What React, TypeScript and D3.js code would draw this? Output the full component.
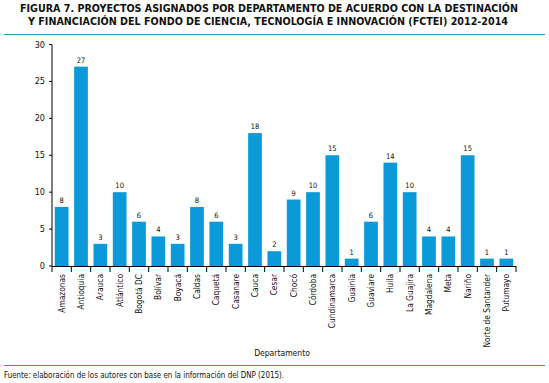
import React from "react";
import * as d3 from "d3";

const categories = ["Amazonas","Antioquia","Arauca","Atlántico","Bogotá DC","Bolívar","Boyacá","Caldas","Caquetá","Casanare","Cauca","Cesar","Chocó","Córdoba","Cundinamarca","Guainía","Guaviare","Huila","La Guajira","Magdalena","Meta","Nariño","Norte de Santander","Putumayo"];
const values = [8,27,3,10,6,4,3,8,6,3,18,2,9,10,15,1,6,14,10,4,4,15,1,1];
const yTicks = [0,5,10,15,20,25,30];
const titleLines = ["FIGURA 7. PROYECTOS ASIGNADOS POR DEPARTAMENTO DE ACUERDO CON LA DESTINACIÓN","Y FINANCIACIÓN DEL FONDO DE CIENCIA, TECNOLOGÍA E INNOVACIÓN (FCTEI) 2012-2014"];
const xTitle = "Departamento";
const source = "Fuente: elaboración de los autores con base en la información del DNP (2015).";

const W = 549, H = 383;
const left = 52, right = 516, top = 44.5, bottom = 266;
const font = "'Liberation Sans Narrow', 'DejaVu Sans Condensed', sans-serif";

export default function App() {
  const x = d3.scaleBand().domain(categories).range([left, right]).paddingInner(0.29).paddingOuter(0.145);
  const xb = d3.scaleBand().domain(categories).range([left, right]);
  const y = d3.scaleLinear().domain([0, 30]).range([bottom, top]);
  const blue = "#0a9ad9";
  return (
    <svg width={W} height={H} style={{ position: "absolute", left: 0, top: 0, background: "#fff" }} fontFamily={font}>
      <text x={20} y={12} fontSize={11} fontWeight="bold" textLength={498} lengthAdjust="spacingAndGlyphs" fill="#111">{titleLines[0]}</text>
      <text x={28} y={25} fontSize={11} fontWeight="bold" textLength={480} lengthAdjust="spacingAndGlyphs" fill="#111">{titleLines[1]}</text>
      <line x1={4} x2={545} y1={34.5} y2={34.5} stroke="#3a93b8" strokeWidth={1} />
      <line x1={left} x2={left} y1={top} y2={bottom} stroke="#000" />
      {yTicks.map(t => (
        <g key={t}>
          <line x1={left - 3} x2={left} y1={y(t)} y2={y(t)} stroke="#000" />
          <text x={left - 7} y={y(t) + 3} fontSize={9} textAnchor="end" fill="#111">{t}</text>
        </g>
      ))}
      {categories.map((c, i) => (
        <g key={c}>
          <rect x={x(c)} y={y(values[i])} width={x.bandwidth()} height={bottom - y(values[i])} fill={blue} />
          <text x={x(c)! + x.bandwidth() / 2} y={y(values[i]) - 4} fontSize={7.5} textAnchor="middle" fill="#111">{values[i]}</text>
        </g>
      ))}
      <line x1={left} x2={right} y1={bottom + 0.5} y2={bottom + 0.5} stroke="#000" />
      {categories.map((c, i) => (
        <line key={"t" + i} x1={xb(c)! + xb.bandwidth()} x2={xb(c)! + xb.bandwidth()} y1={bottom} y2={bottom + 6} stroke="#000" />
      ))}
      <line x1={left} x2={left} y1={bottom} y2={bottom + 6} stroke="#000" />
      {categories.map((c) => (
        <text key={"l" + c} transform={`translate(${xb(c)! + xb.bandwidth() / 2 + 3},${bottom + 8}) rotate(-90)`} fontSize={8.3} textAnchor="end" fill="#111">{c}</text>
      ))}
      <text x={282} y={356} fontSize={8.5} textAnchor="middle" fill="#111">{xTitle}</text>
      <line x1={4} x2={545} y1={365.5} y2={365.5} stroke="#3a93b8" strokeWidth={1} />
      <text x={4} y={378} fontSize={8} textLength={280} lengthAdjust="spacingAndGlyphs" fill="#111">{source}</text>
    </svg>
  );
}
